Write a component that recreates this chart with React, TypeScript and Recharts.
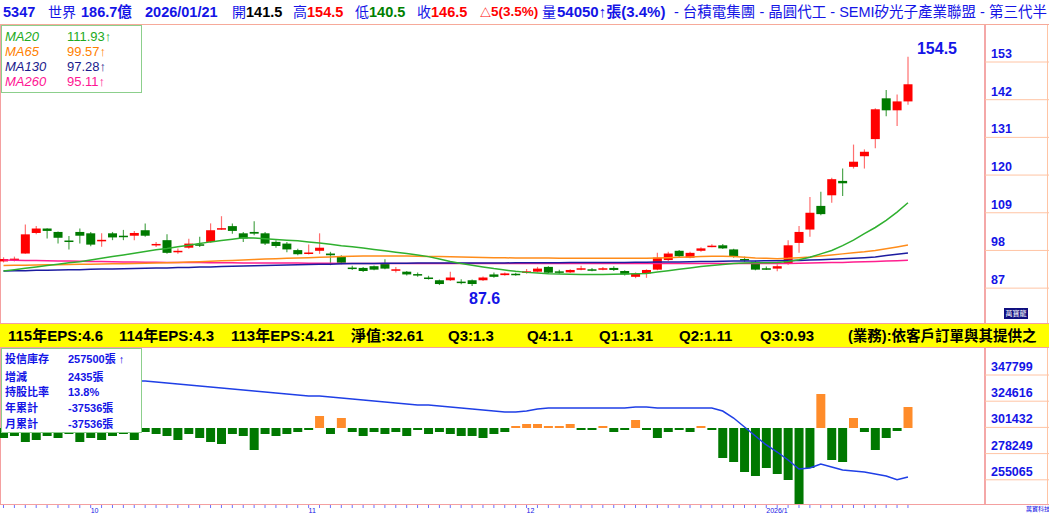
import React from 'react';
import { ComposedChart, Bar, Line, XAxis, YAxis, ReferenceDot, Cell } from 'recharts';

const opens = [94.8, 95.4, 97.1, 103.1, 104.4, 103.4, 100.9, 103.4, 103.0, 100.9, 103.0, 102.3, 102.3, 103.9, 99.6, 101.0, 97.7, 98.8, 99.8, 100.5, 104.3, 105.1, 103.0, 103.4, 103.0, 100.5, 100.0, 98.1, 97.2, 97.9, 97.1, 96.3, 93.0, 92.9, 93.4, 94.2, 92.3, 91.8, 91.1, 90.1, 89.3, 89.3, 88.9, 89.3, 89.3, 91.0, 90.8, 91.2, 91.7, 91.8, 93.2, 91.9, 91.6, 92.6, 92.5, 92.6, 92.9, 92.0, 90.3, 91.3, 92.4, 95.2, 97.9, 95.9, 97.9, 99.2, 99.5, 98.3, 95.5, 94.7, 92.8, 92.7, 94.2, 100.2, 104.1, 111.0, 114.1, 118.3, 122.4, 125.5, 130.5, 142.4, 138.9, 141.5];
const closes = [95.5, 95.6, 102.7, 104.4, 103.7, 101.7, 100.7, 102.3, 99.7, 101.1, 101.8, 101.9, 103.1, 102.3, 99.9, 97.3, 97.9, 100.0, 99.6, 103.9, 104.5, 103.7, 101.5, 102.9, 100.0, 99.3, 98.3, 96.9, 97.4, 98.8, 96.6, 94.4, 92.8, 92.0, 92.4, 92.7, 92.5, 91.0, 90.9, 89.9, 88.2, 90.1, 88.7, 88.2, 90.1, 90.3, 91.3, 91.0, 91.9, 92.7, 91.5, 91.7, 92.3, 92.8, 92.3, 92.8, 92.3, 91.0, 91.3, 92.3, 95.9, 97.1, 96.3, 97.3, 98.6, 99.4, 98.6, 96.1, 95.3, 92.4, 92.6, 93.4, 99.5, 103.4, 109.0, 108.6, 118.8, 117.6, 123.9, 126.8, 139.2, 138.9, 141.5, 146.5];
const highs = [96.0, 96.2, 105.6, 105.1, 104.5, 103.5, 102.2, 104.4, 103.4, 103.0, 103.4, 104.0, 103.7, 105.9, 100.5, 102.7, 98.6, 101.4, 102.0, 105.9, 108.0, 105.9, 103.4, 106.5, 103.4, 101.0, 100.5, 98.5, 99.7, 103.0, 97.6, 96.6, 93.5, 93.2, 93.6, 95.4, 93.2, 92.0, 91.6, 90.6, 89.5, 91.8, 89.6, 89.5, 90.4, 91.6, 91.6, 91.5, 92.6, 93.2, 93.4, 92.4, 92.5, 93.5, 92.9, 93.2, 93.4, 92.2, 91.6, 92.5, 97.3, 97.6, 98.1, 97.6, 98.9, 99.8, 99.9, 98.5, 96.2, 95.0, 93.3, 94.0, 101.0, 105.1, 113.6, 115.1, 119.2, 121.9, 128.9, 127.5, 139.5, 144.8, 143.5, 154.5];
const lows = [94.5, 94.8, 97.0, 102.7, 101.5, 100.0, 98.3, 100.0, 99.2, 99.1, 101.0, 101.0, 101.0, 102.0, 99.0, 97.0, 97.0, 98.5, 99.0, 100.3, 104.0, 102.9, 100.5, 102.4, 99.6, 98.8, 97.5, 96.6, 96.8, 97.0, 93.7, 94.0, 92.3, 91.7, 92.2, 92.5, 91.6, 90.7, 90.3, 89.5, 87.9, 89.1, 88.1, 87.6, 89.1, 90.0, 90.6, 90.6, 91.2, 91.6, 91.3, 91.2, 91.4, 92.2, 91.9, 92.2, 92.0, 90.7, 89.9, 90.0, 92.2, 94.9, 96.1, 95.7, 97.6, 98.9, 98.4, 95.9, 94.7, 92.2, 92.3, 91.9, 93.8, 97.3, 102.0, 108.3, 111.9, 113.9, 121.9, 121.9, 127.8, 137.2, 134.3, 140.5];

const ma20 = [92.0, 92.4, 92.8, 93.2, 93.6, 94.0, 94.4, 94.7, 95.2, 95.7, 96.2, 96.7, 97.2, 97.7, 98.2, 98.6, 99.1, 99.5, 100.0, 100.5, 100.9, 101.3, 101.7, 101.6, 101.4, 101.2, 101.0, 100.8, 100.5, 100.2, 99.8, 99.4, 99.1, 98.7, 98.3, 97.9, 97.5, 97.1, 96.7, 96.2, 95.5, 94.8, 94.2, 93.7, 93.2, 92.7, 92.3, 91.9, 91.6, 91.4, 91.2, 91.1, 91.05, 91.0, 91.0, 91.0, 91.05, 91.1, 91.2, 91.3, 91.7, 92.1, 92.5, 92.9, 93.3, 93.6, 93.9, 94.2, 94.3, 94.4, 94.4, 94.5, 94.8, 95.3, 96.0, 97.0, 98.0, 99.4, 101.0, 102.9, 104.7, 106.8, 109.2, 111.93];
const ma65 = [93.6, 93.65, 93.7, 93.75, 93.8, 93.85, 93.9, 93.95, 94.0, 94.05, 94.1, 94.15, 94.2, 94.25, 94.3, 94.4, 94.5, 94.6, 94.7, 94.85, 95.0, 95.1, 95.2, 95.35, 95.5, 95.6, 95.7, 95.8, 95.9, 96.0, 96.1, 96.2, 96.3, 96.35, 96.4, 96.4, 96.4, 96.35, 96.3, 96.25, 96.2, 96.15, 96.1, 96.0, 95.95, 95.9, 95.85, 95.8, 95.8, 95.8, 95.8, 95.75, 95.75, 95.7, 95.7, 95.7, 95.7, 95.7, 95.75, 95.75, 95.8, 95.9, 96.0, 96.1, 96.2, 96.3, 96.3, 96.2, 96.0, 95.8, 95.7, 95.6, 95.7, 95.9, 96.1, 96.4, 96.7, 97.0, 97.3, 97.6, 98.0, 98.5, 99.0, 99.57];
const ma130 = [92.0, 92.05, 92.1, 92.2, 92.25, 92.3, 92.35, 92.4, 92.5, 92.55, 92.6, 92.65, 92.7, 92.8, 92.85, 92.9, 93.0, 93.05, 93.15, 93.2, 93.3, 93.4, 93.45, 93.55, 93.6, 93.7, 93.75, 93.85, 93.9, 93.95, 94.0, 94.1, 94.2, 94.2, 94.2, 94.25, 94.25, 94.25, 94.3, 94.3, 94.3, 94.3, 94.35, 94.35, 94.35, 94.35, 94.35, 94.4, 94.4, 94.4, 94.4, 94.4, 94.45, 94.45, 94.45, 94.5, 94.5, 94.5, 94.55, 94.55, 94.6, 94.6, 94.65, 94.7, 94.75, 94.8, 94.85, 94.9, 94.9, 94.95, 95.0, 95.0, 95.05, 95.1, 95.2, 95.3, 95.4, 95.55, 95.7, 95.9, 96.1, 96.5, 96.9, 97.28];
const ma260 = [95.2, 95.15, 95.1, 95.05, 95.0, 94.95, 94.9, 94.85, 94.8, 94.75, 94.7, 94.65, 94.6, 94.55, 94.55, 94.5, 94.5, 94.45, 94.45, 94.4, 94.4, 94.4, 94.35, 94.35, 94.35, 94.3, 94.3, 94.3, 94.25, 94.25, 94.25, 94.2, 94.2, 94.2, 94.2, 94.2, 94.2, 94.2, 94.2, 94.2, 94.2, 94.2, 94.2, 94.2, 94.2, 94.2, 94.2, 94.2, 94.2, 94.2, 94.2, 94.2, 94.2, 94.2, 94.2, 94.2, 94.2, 94.2, 94.2, 94.2, 94.2, 94.2, 94.2, 94.2, 94.2, 94.2, 94.2, 94.2, 94.2, 94.2, 94.2, 94.2, 94.2, 94.25, 94.3, 94.4, 94.45, 94.5, 94.6, 94.7, 94.8, 94.9, 95.0, 95.11];

const inventory = [347799, 346029, 345587, 345145, 345145, 344702, 344260, 344260, 343817, 343375, 343375, 342933, 342490, 342490, 341605, 340721, 339836, 338951, 338066, 337181, 336297, 335412, 334527, 333642, 332757, 331873, 330988, 330103, 329218, 329218, 328333, 327449, 326564, 325679, 324794, 323909, 323025, 322140, 321255, 321255, 320370, 319485, 318601, 317716, 316831, 315946, 315061, 315061, 315946, 317716, 318601, 318601, 318601, 318601, 318601, 318601, 318601, 318601, 319485, 319485, 318601, 318601, 318601, 318601, 318601, 318601, 315946, 309753, 301790, 293826, 285863, 279669, 272591, 264628, 265513, 269052, 266397, 263743, 262858, 261973, 260204, 258434, 255065, 257500];
const invChange = [-1160, -928, -1624, -1392, -928, -1160, -696, -1624, -1160, -1392, -928, -696, -1392, -464, -696, -928, -1392, -696, -1160, -1624, -1856, -696, -928, -2552, -696, -928, -696, -464, -232, 1392, -696, 1160, -464, -928, -464, -696, -464, -928, -232, -696, -464, -696, -928, -928, -1160, -696, -464, 232, 464, 464, 232, 232, 464, -232, -232, 232, -464, -232, 928, -232, -1160, -464, -232, -464, 232, -232, -3480, -3944, -5104, -5568, -4640, -5336, -6032, -8932, -4640, 3944, -3712, -3944, 1160, -464, -2552, -1160, -348, 2435];

const monthTicks = [8, 28, 48, 70];
const monthLabels = ['10', '11', '12', '2026/1'];
const priceTicks = [87, 98, 109, 120, 131, 142, 153];
const invTicks = [255065, 278249, 301432, 324616, 347799];

const candles = opens.map((o, i) => ({
  i, open: o, close: closes[i], high: highs[i], low: lows[i], range: [lows[i], highs[i]],
  ma20: ma20[i], ma65: ma65[i], ma130: ma130[i], ma260: ma260[i],
}));
const chips = inventory.map((v, i) => ({ i, inv: v, chg: invChange[i] }));
const allIdx = opens.map((_, i) => i);

const X_DOMAIN: [number, number] = [-0.321, 90.07];
const FONT = "'Liberation Sans', Arial, 'Noto Sans CJK TC', sans-serif";
const BLUE = '#1414e6';

const Candle = (props: any) => {
  const { x, y, width, height, payload } = props;
  if (!payload || payload.open == null) return null;
  const { open, close, high, low } = payload;
  const top = height >= 0 ? y : y + height;
  const h = Math.abs(height);
  const span = high - low || 1;
  const py = (v: number) => top + ((high - v) / span) * h;
  const up = close >= open;
  const cx = x + width / 2;
  const bTop = py(Math.max(open, close));
  const bBot = py(Math.min(open, close));
  const bh = Math.max(bBot - bTop, 1.5);
  const color = up ? '#ff0000' : '#007a00';
  const wick = up ? '#ff6f6f' : '#4fa64f';
  return (
    <g>
      <line x1={cx} x2={cx} y1={top} y2={top + h} stroke={wick} strokeWidth={1.2} />
      <rect x={x} y={bTop} width={width} height={bh} fill={color} />
    </g>
  );
};

const RightTick = (props: any) => {
  const { x, y, payload } = props;
  return (
    <g>
      <line x1={x - 6} x2={x + 60} y1={y} y2={y} stroke="#ffc4a4" strokeWidth={1} />
      <text x={x} y={y - 4} fill={BLUE} fontSize={12.5} fontWeight="bold" fontFamily={FONT}>{payload.value}</text>
    </g>
  );
};

const DayTick = (props: any) => {
  const { x, y, payload } = props;
  const k = monthTicks.indexOf(payload.value);
  return (
    <g>
      <line x1={x} x2={x} y1={y + 1} y2={y + 4} stroke="#7070ff" strokeWidth={1} />
      {k >= 0 && (
        <text x={x} y={y + 8.5} fill={BLUE} fontSize={7} fontFamily={FONT}>{monthLabels[k]}</text>
      )}
    </g>
  );
};

const highLabel = (p: any) => {
  const vb = p.viewBox || {};
  return <text x={vb.x + 9} y={vb.y - 3} fill={BLUE} fontSize={16} fontWeight="bold" fontFamily={FONT}>154.5</text>;
};
const lowLabel = (p: any) => {
  const vb = p.viewBox || {};
  return <text x={vb.x - 3} y={vb.y + 18} fill={BLUE} fontSize={16} fontWeight="bold" fontFamily={FONT}>87.6</text>;
};

const abs = (l: number, t: number, extra: any = {}) => ({ position: 'absolute' as const, left: l, top: t, whiteSpace: 'nowrap' as const, ...extra });

export default function App() {
  const hdr = { fontSize: 14.5, fontWeight: 'bold' as const, lineHeight: '16px' };
  const hdrC = { fontSize: 14, fontWeight: 'normal' as const, lineHeight: '16px' };
  const eps = { fontSize: 15, fontWeight: 'bold' as const, lineHeight: '16px', color: '#000' };
  const lg = { fontSize: 13, lineHeight: '15px' };
  const lg2 = { fontSize: 11, fontWeight: 'bold' as const, lineHeight: '14px', color: BLUE };
  return (
    <div style={{ position: 'absolute', left: 0, top: 0, width: 1049, height: 513, background: '#fff', fontFamily: FONT, overflow: 'hidden' }}>
      {/* header */}
      <div style={abs(0, 0, { width: 1049, height: 24, borderBottom: '1.5px solid #f6aa9a' })} />
      <div style={abs(3, 4, { ...hdr, color: BLUE })}>5347</div>
      <div style={abs(48, 4, { ...hdrC, color: BLUE })}>世界</div>
      <div style={abs(81, 4, { ...hdr, color: BLUE })}>186.7億</div>
      <div style={abs(145, 4, { ...hdr, color: BLUE })}>2026/01/21</div>
      <div style={abs(232, 4, { ...hdrC, color: BLUE })}>開</div>
      <div style={abs(246, 4, { ...hdr, color: '#000' })}>141.5</div>
      <div style={abs(293, 4, { ...hdrC, color: BLUE })}>高</div>
      <div style={abs(307, 4, { ...hdr, color: '#ff0000' })}>154.5</div>
      <div style={abs(355, 4, { ...hdrC, color: BLUE })}>低</div>
      <div style={abs(369, 4, { ...hdr, color: '#008000' })}>140.5</div>
      <div style={abs(417, 4, { ...hdrC, color: BLUE })}>收</div>
      <div style={abs(431, 4, { ...hdr, color: '#ff0000' })}>146.5</div>
      <div style={abs(480, 5, { fontSize: 11, lineHeight: '16px', color: '#ff0000', fontWeight: 'bold' })}>△</div>
      <div style={abs(491, 4, { ...hdr, fontSize: 13.5, color: '#ff0000' })}>5(3.5%)</div>
      <div style={abs(542, 4, { ...hdrC, color: BLUE })}>量</div>
      <div style={abs(557, 4, { ...hdr, fontSize: 15, color: BLUE })}>54050↑張(3.4%)</div>
      <div style={abs(674, 4, { ...hdrC, fontSize: 14.5, color: BLUE })}>- 台積電集團 - 晶圓代工 - SEMI矽光子產業聯盟 - 第三代半</div>

      {/* frame lines */}
      <div style={abs(0, 25, { width: 1, height: 480, background: '#f4a0a0' })} />
      <div style={abs(984, 25, { width: 2, height: 480, background: '#f4a8a8' })} />
      <div style={abs(1047, 25, { width: 1, height: 300, background: '#ffc4a4' })} />
      <div style={abs(1047, 348, { width: 1, height: 157, background: '#ffc4a4' })} />

      {/* top price chart */}
      <div style={abs(0, 25)}>
        <ComposedChart width={1049} height={295} data={candles} margin={{ top: 0, right: 0, bottom: 0, left: 0 }}>
          <XAxis dataKey="i" type="number" domain={X_DOMAIN} allowDataOverflow hide />
          <YAxis yAxisId="price" orientation="right" width={64} domain={[77.7, 163.8]} ticks={priceTicks} allowDataOverflow axisLine={false} tickLine={false} tickSize={0} tickMargin={6} tick={<RightTick />} interval={0} />
          <Line yAxisId="price" dataKey="ma260" stroke="#ff1f8f" strokeWidth={1.5} dot={false} isAnimationActive={false} />
          <Line yAxisId="price" dataKey="ma130" stroke="#1c1ca0" strokeWidth={1.5} dot={false} isAnimationActive={false} />
          <Line yAxisId="price" dataKey="ma65" stroke="#ff8c1a" strokeWidth={1.5} dot={false} isAnimationActive={false} />
          <Line yAxisId="price" dataKey="ma20" stroke="#2fb02f" strokeWidth={1.5} dot={false} isAnimationActive={false} />
          <Bar yAxisId="price" dataKey="range" barSize={9} shape={<Candle />} isAnimationActive={false} />
          <ReferenceDot yAxisId="price" x={83} y={154.5} r={0} ifOverflow="visible" label={highLabel} />
          <ReferenceDot yAxisId="price" x={43} y={87.6} r={0} ifOverflow="visible" label={lowLabel} />
        </ComposedChart>
      </div>

      {/* MA legend */}
      <div style={abs(1, 25, { width: 139, height: 66, border: '1px solid #8ccf8c', background: '#fff' })} />
      <div style={abs(5, 29, { ...lg, color: '#22aa22', fontStyle: 'italic' })}>MA20</div>
      <div style={abs(67, 29, { ...lg, color: '#22aa22' })}>111.93↑</div>
      <div style={abs(5, 44, { ...lg, color: '#ff8000', fontStyle: 'italic' })}>MA65</div>
      <div style={abs(67, 44, { ...lg, color: '#ff8000' })}>99.57↑</div>
      <div style={abs(5, 59, { ...lg, color: '#1a1a8c', fontStyle: 'italic' })}>MA130</div>
      <div style={abs(67, 59, { ...lg, color: '#1a1a8c' })}>97.28↑</div>
      <div style={abs(5, 74, { ...lg, color: '#ff1493', fontStyle: 'italic' })}>MA260</div>
      <div style={abs(67, 74, { ...lg, color: '#ff1493' })}>95.11↑</div>

      <div style={abs(1004, 308, { width: 24, height: 11, background: '#101080', color: '#fff', fontSize: 7, lineHeight: '11px', textAlign: 'center' })}>萬寶龍</div>

      {/* EPS bar */}
      <div style={abs(0, 323, { width: 1049, height: 23, background: '#ffff00', borderTop: '1.5px solid #f4a0a0', borderBottom: '1.5px solid #f4a0a0' })} />
      <div style={abs(8, 328, eps)}>115年EPS:4.6</div>
      <div style={abs(119, 328, eps)}>114年EPS:4.3</div>
      <div style={abs(231, 328, eps)}>113年EPS:4.21</div>
      <div style={abs(351, 328, eps)}>淨值:32.61</div>
      <div style={abs(448, 328, eps)}>Q3:1.3</div>
      <div style={abs(527, 328, eps)}>Q4:1.1</div>
      <div style={abs(599, 328, eps)}>Q1:1.31</div>
      <div style={abs(679, 328, eps)}>Q2:1.11</div>
      <div style={abs(760, 328, eps)}>Q3:0.93</div>
      <div style={abs(848, 328, { ...eps, fontSize: 14.5 })}>(業務):依客戶訂單與其提供之</div>

      {/* bottom chip chart */}
      <div style={abs(0, 349)}>
        <ComposedChart width={1049} height={164} data={chips} margin={{ top: 0, right: 0, bottom: 0, left: 0 }}>
          <XAxis dataKey="i" type="number" domain={X_DOMAIN} allowDataOverflow ticks={allIdx} interval={0} height={9} axisLine={false} tickLine={false} tickSize={0} tickMargin={0} tick={<DayTick />} />
          <YAxis yAxisId="inv" orientation="right" width={64} domain={[233660, 370804]} ticks={invTicks} allowDataOverflow axisLine={false} tickLine={false} tickSize={0} tickMargin={6} tick={<RightTick />} interval={0} />
          <YAxis yAxisId="chg" hide domain={[-8816, 9164]} allowDataOverflow />
          <Bar yAxisId="chg" dataKey="chg" barSize={9} isAnimationActive={false}>
            {chips.map((d) => (
              <Cell key={d.i} fill={d.chg >= 0 ? '#ff8c2a' : '#007800'} />
            ))}
          </Bar>
          <Line yAxisId="inv" dataKey="inv" stroke="#1f3fe6" strokeWidth={1.5} dot={false} isAnimationActive={false} />
        </ComposedChart>
      </div>
      <div style={abs(0, 504, { width: 1049, height: 1, background: '#f4a0a0' })} />

      {/* chip legend */}
      <div style={abs(1, 348, { width: 139, height: 83, border: '1px solid #8ccf8c', background: '#fff' })} />
      <div style={abs(5, 352, lg2)}>投信庫存</div>
      <div style={abs(68, 352, lg2)}>257500張 ↑</div>
      <div style={abs(5, 370, lg2)}>增減</div>
      <div style={abs(68, 370, lg2)}>2435張</div>
      <div style={abs(5, 385, lg2)}>持股比率</div>
      <div style={abs(68, 385, lg2)}>13.8%</div>
      <div style={abs(5, 401, lg2)}>年累計</div>
      <div style={abs(68, 401, lg2)}>-37536張</div>
      <div style={abs(5, 417, lg2)}>月累計</div>
      <div style={abs(68, 417, lg2)}>-37536張</div>

      <div style={abs(1026, 506, { fontSize: 6, color: BLUE, lineHeight: '7px' })}>萬寶科技</div>
    </div>
  );
}
